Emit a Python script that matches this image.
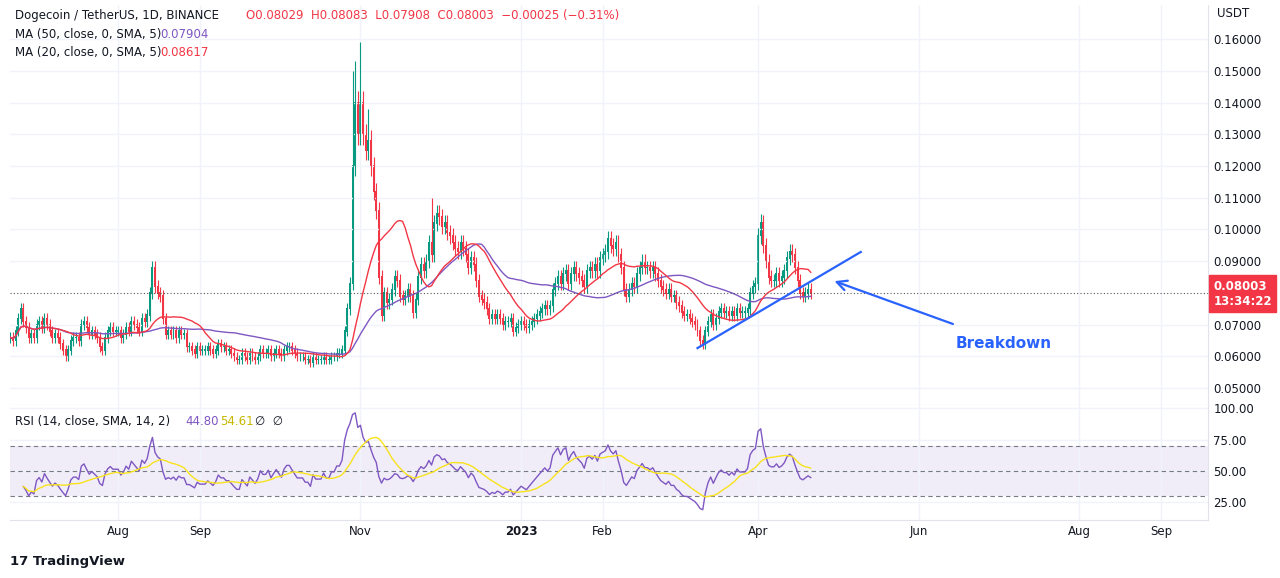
import numpy as np, pandas as pd, matplotlib
matplotlib.use("Agg")
import matplotlib.pyplot as plt, matplotlib.dates as mdates, seaborn as sns

jun = [0.066,0.065,0.068,0.072,0.075,0.071,0.069,0.066,0.067,0.066]
jul = [0.070,0.071,0.069,0.072,0.070,0.068,0.066,0.067,0.066,0.064,0.062,0.060,0.062,0.065,0.066,0.066,0.065,0.070,0.071,0.069,0.067,0.068,0.067,0.066,0.063,0.062,0.066,0.068,0.069,0.068,0.068]
aug = [0.068,0.066,0.067,0.069,0.068,0.071,0.070,0.069,0.068,0.072,0.071,0.073,0.080,0.088,0.082,0.080,0.079,0.072,0.067,0.068,0.067,0.068,0.066,0.068,0.067,0.067,0.063,0.063,0.062,0.061,0.063]
sep = [0.062,0.062,0.062,0.063,0.062,0.061,0.062,0.064,0.063,0.063,0.062,0.062,0.061,0.060,0.059,0.059,0.061,0.060,0.059,0.061,0.060,0.059,0.060,0.062,0.061,0.061,0.062,0.060,0.061,0.062]
oct = [0.061,0.060,0.062,0.063,0.063,0.062,0.061,0.060,0.060,0.060,0.059,0.059,0.058,0.060,0.059,0.059,0.059,0.060,0.059,0.059,0.060,0.060,0.061,0.061,0.062,0.068,0.075,0.083,0.120,0.140,0.130]
nov = [0.140,0.130,0.125,0.128,0.120,0.112,0.106,0.085,0.073,0.080,0.077,0.078,0.081,0.085,0.084,0.079,0.078,0.079,0.081,0.079,0.074,0.078,0.085,0.089,0.087,0.090,0.096,0.092,0.102,0.105]
dec = [0.104,0.101,0.102,0.099,0.098,0.096,0.094,0.093,0.096,0.094,0.092,0.088,0.091,0.089,0.084,0.079,0.078,0.077,0.075,0.072,0.073,0.072,0.073,0.072,0.070,0.071,0.071,0.072,0.068,0.069,0.070]
jan = [0.071,0.070,0.069,0.070,0.071,0.072,0.073,0.074,0.075,0.076,0.075,0.076,0.081,0.083,0.085,0.083,0.086,0.087,0.083,0.086,0.088,0.086,0.085,0.084,0.082,0.087,0.088,0.087,0.089,0.087,0.091]
feb = [0.092,0.093,0.097,0.095,0.094,0.096,0.092,0.088,0.081,0.079,0.081,0.083,0.082,0.086,0.088,0.090,0.088,0.088,0.087,0.088,0.086,0.084,0.082,0.081,0.080,0.081,0.079,0.079]
mar = [0.077,0.076,0.074,0.073,0.073,0.072,0.071,0.070,0.068,0.065,0.064,0.068,0.071,0.073,0.070,0.072,0.074,0.075,0.074,0.074,0.073,0.074,0.073,0.075,0.074,0.074,0.074,0.075,0.080,0.082,0.083]
apr = [0.098,0.102,0.095,0.090,0.085,0.084,0.084,0.086,0.084,0.085,0.087,0.091,0.093,0.092,0.088,0.084,0.080,0.079,0.080,0.081,0.080]
spike_highs = {"2022-10-29": 0.150, "2022-10-30": 0.153, "2022-11-01": 0.159, "2022-11-04": 0.138, "2022-11-28": 0.110, "2023-04-02": 0.105}
price_ticks = [0.05,0.06,0.07,0.09,0.10,0.11,0.12,0.13,0.14,0.15,0.16]
rsi_ticks = [25,50,75,100]

closes = np.array(jun+jul+aug+sep+oct+nov+dec+jan+feb+mar+apr)
dates = pd.date_range("2022-06-21", periods=len(closes), freq="D")
opens = np.concatenate([[closes[0]], closes[:-1]])
highs = pd.Series(np.maximum(opens, closes)*1.025, index=dates)
for k, v in spike_highs.items():
    highs[pd.Timestamp(k)] = v
lows = np.minimum(opens, closes)*0.975
df = pd.DataFrame({"date": dates, "close": closes})
df["ma50"] = df.close.rolling(50, min_periods=1).mean()
df["ma20"] = df.close.rolling(20, min_periods=1).mean()
d = df.close.diff()
up = d.clip(lower=0).ewm(alpha=1/14, adjust=False).mean()
dn = (-d.clip(upper=0)).ewm(alpha=1/14, adjust=False).mean()
df["rsi"] = 100 - 100/(1+up/dn.replace(0, 1e-9))
df.loc[:4, "rsi"] = np.nan
df["rsima"] = df.rsi.rolling(14, min_periods=1).mean()

G, R = "#089981", "#f23645"
fig = plt.figure(figsize=(12.8, 5.78), dpi=100)
ax = fig.add_axes([0.008, 0.299, 0.936, 0.692])
ax2 = fig.add_axes([0.008, 0.1, 0.936, 0.199], sharex=ax)
x0, x1 = pd.Timestamp("2022-06-21"), pd.Timestamp("2023-09-19")

cols = [G if c >= o else R for o, c in zip(opens, closes)]
ax.vlines(dates, lows, highs.values, colors=cols, lw=0.8)
ax.bar(dates, np.abs(closes-opens)+0.0004, bottom=np.minimum(opens, closes)-0.0002, width=0.75, color=cols)
sns.lineplot(data=df, x="date", y="ma50", ax=ax, color="#7e57c2", lw=1)
sns.lineplot(data=df, x="date", y="ma20", ax=ax, color="#f23645", lw=1)
last = 0.08003
ax.axhline(last, color="#555", lw=0.8, ls=(0, (1, 2)))
ax.plot([pd.Timestamp("2023-03-09"), pd.Timestamp("2023-05-10")], [0.0626, 0.0929], color="#2962ff", lw=1.6)
ax.annotate("", xy=(pd.Timestamp("2023-04-29"), 0.0840), xytext=(pd.Timestamp("2023-06-15"), 0.0699),
            arrowprops=dict(arrowstyle="->", color="#2962ff", lw=1.6, mutation_scale=18))
ax.text(pd.Timestamp("2023-06-15"), 0.0639, "Breakdown", color="#2962ff", fontsize=11, fontweight="bold", ha="left", va="center")
ax.set_ylim(0.0446, 0.1707)
ax.set_xlim(x0, x1)

ax2.axhspan(30, 70, color="#7e57c2", alpha=0.1, lw=0)
for v in (70, 50, 30):
    ax2.axhline(v, color="#787b86", lw=0.8, ls=(0, (4, 3)))
sns.lineplot(data=df, x="date", y="rsi", ax=ax2, color="#7e57c2", lw=1)
sns.lineplot(data=df, x="date", y="rsima", ax=ax2, color="#f7e21c", lw=1)
ax2.set_ylim(10.6, 102.4)

for a in (ax, ax2):
    a.grid(color="#f0f3fa", lw=1)
    a.set_xlabel(""); a.set_ylabel("")
    a.yaxis.tick_right()
    a.tick_params(length=0, labelsize=8.5, colors="#131722")
    for s in a.spines.values():
        s.set_color("#e0e3eb")
    a.spines["top"].set_visible(False); a.spines["left"].set_visible(False)
ax.set_yticks(price_ticks); ax.set_yticklabels([f"{t:.5f}" for t in price_ticks])
ax2.set_yticks(rsi_ticks); ax2.set_yticklabels([f"{t:.2f}" for t in rsi_ticks])
ax.tick_params(labelbottom=False)
ticks = pd.to_datetime(["2022-08-01","2022-09-01","2022-11-01","2023-01-01","2023-02-01","2023-04-01","2023-06-01","2023-08-01","2023-09-01"])
ax2.set_xticks(ticks)
ax2.set_xticklabels(["Aug","Sep","Nov","2023","Feb","Apr","Jun","Aug","Sep"])
for lbl in ax2.get_xticklabels():
    if lbl.get_text() == "2023": lbl.set_fontweight("bold")

fig.text(0.948, 0.492, "0.08003\n13:34:22", color="white", fontsize=8.5, fontweight="bold",
         va="center", ha="left", bbox=dict(facecolor=R, edgecolor=R, boxstyle="square,pad=0.35"))
fig.text(0.951, 0.97, "USDT", fontsize=8.5, color="#131722")
fig.text(0.012, 0.967, "Dogecoin / TetherUS, 1D, BINANCE  ", fontsize=8.5, color="#131722")
fig.text(0.192, 0.967, "O0.08029  H0.08083  L0.07908  C0.08003  −0.00025 (−0.31%)", fontsize=8.5, color=R)
fig.text(0.012, 0.935, "MA (50, close, 0, SMA, 5)", fontsize=8.5, color="#131722")
fig.text(0.125, 0.935, "0.07904", fontsize=8.5, color="#7e57c2")
fig.text(0.012, 0.903, "MA (20, close, 0, SMA, 5)", fontsize=8.5, color="#131722")
fig.text(0.125, 0.903, "0.08617", fontsize=8.5, color=R)
fig.text(0.012, 0.265, "RSI (14, close, SMA, 14, 2)", fontsize=8.5, color="#131722")
fig.text(0.145, 0.265, "44.80", fontsize=8.5, color="#7e57c2")
fig.text(0.172, 0.265, "54.61", fontsize=8.5, color="#c9b800")
fig.text(0.199, 0.265, "∅  ∅", fontsize=8.5, color="#131722")
fig.text(0.008, 0.022, "17 TradingView", fontsize=9.5, color="#131722", fontweight="bold")
fig.savefig("out.png", dpi=100, facecolor="white")
